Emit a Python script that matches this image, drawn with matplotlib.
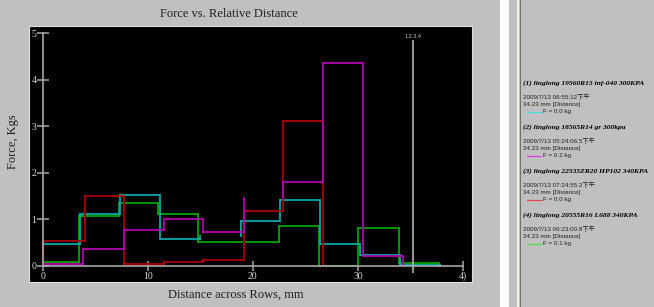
import matplotlib
matplotlib.use("Agg")
import matplotlib.pyplot as plt
from matplotlib.patches import Rectangle
from matplotlib.lines import Line2D

plt.rcParams['font.family'] = ['Liberation Serif', 'Noto Sans CJK TC']

# ---------------- data ----------------
cyan_edges = [0, 3.6, 7.4, 11.2, 15.0, 18.9, 22.6, 26.4, 30.2, 34.0, 37.8]
cyan_vals = [0.46, 1.11, 1.52, 0.58, 0.64, 0.96, 1.41, 0.46, 0.24, 0.01]
cyan_gap = [4]

magenta_edges = [0, 3.86, 7.72, 11.5, 15.3, 19.2, 22.9, 26.7, 30.5, 34.3]
magenta_vals = [0.04, 0.37, 0.77, 1.01, 0.72, 1.46, 1.80, 4.37, 0.21]
magenta_gap = [5]

red_edges = [0, 4.0, 7.7, 11.5, 15.3, 19.2, 22.9, 26.7]
red_vals = [0.54, 1.51, 0.04, 0.07, 0.12, 1.17, 3.11]
red_gap = []

green_edges = [0, 3.45, 7.25, 11.0, 14.8, 18.7, 22.5, 26.3, 30.0, 33.9, 37.7]
green_vals = [0.07, 1.06, 1.34, 1.11, 0.50, 0.50, 0.86, 0.0, 0.82, 0.06]
green_gap = []

cursor_x = 35.2
cursor_label = "1,2,3,4"

x_ticks = [0, 10, 20, 30, 40]
x_ticklabels = ["0", "10", "20", "30", "4)"]
y_ticks = [0, 1, 2, 3, 4, 5]

legend_titles = [
    "(1) linglong 19560R15 inf-040 300KPA",
    "(2) linglong 18565R14 gr 300kpa",
    "(3) linglong 22535ZR20 HP102 340KPA",
    "(4) linglong 20555R16 L688 340KPA",
]
legend_dates = [
    "2009/7/13 06:55:12下午",
    "2009/7/13 05:24:06.5下午",
    "2009/7/13 07:24:55.2下午",
    "2009/7/13 06:23:00.8下午",
]
legend_dist = "34.23 mm [Distance]"
legend_force = ["F = 0.0 kg", "F = 0.2 kg", "F = 0.0 kg", "F = 0.1 kg"]
legend_colors = ["#40e0e0", "#e040e0", "#e04848", "#48e048"]

# ---------------- figure ----------------
W, H = 654, 307
fig = plt.figure(figsize=(W / 100, H / 100), dpi=100, facecolor="#c0c0c0")


def fx(px):
    return px / W


def fy(py):
    return 1 - py / H


# right-side window decorations
fig.patches.append(Rectangle((fx(500), 0), fx(9), 1, transform=fig.transFigure,
                             facecolor="white", edgecolor="none"))
fig.patches.append(Rectangle((fx(517), 0), fx(2), 1, transform=fig.transFigure,
                             facecolor="#f4f0e0", edgecolor="none"))
fig.patches.append(Rectangle((fx(520), 0), fx(1.3), 1, transform=fig.transFigure,
                             facecolor="#707070", edgecolor="none"))

left, right, top, bottom = 29, 472, 26, 282
ax = fig.add_axes([fx(left), fy(bottom), fx(right - left), (bottom - top) / H])
ax.set_facecolor("black")
ax.set_xlim(-1.30, 40.85)
ax.set_ylim(-0.35, 5.155)

ax.patch.set_edgecolor("#e0e0e0")
ax.patch.set_linewidth(0.8)

for s in ["top", "right"]:
    ax.spines[s].set_visible(False)
axis_col = "#a8a8a8"
ax.spines['left'].set_position(('data', 0))
ax.spines['left'].set_bounds(0, 5)
ax.spines['bottom'].set_position(('data', 0))
ax.spines['bottom'].set_bounds(0, 40)
for s in ["left", "bottom"]:
    ax.spines[s].set_color(axis_col)
    ax.spines[s].set_linewidth(1.2)
    ax.spines[s].set_zorder(5)

ax.set_xticks(x_ticks)
ax.set_xticklabels(x_ticklabels)
ax.set_yticks(y_ticks)
ax.tick_params(axis='x', direction='inout', length=6.5, width=1.1, color=axis_col,
               labelcolor="#d8d8d8", labelsize=7, pad=1)
ax.tick_params(axis='y', direction='inout', length=8, width=1.1, color=axis_col,
               labelcolor="#d8d8d8", labelsize=7, pad=0.5)


def draw_steps(edges, vals, color, gap):
    for i, v in enumerate(vals):
        if i in gap:
            continue
        lc = ax.hlines(v, edges[i], edges[i + 1], colors=color, linewidth=1.3)
        lc.set_capstyle('projecting')
    levels = [0] + list(vals) + [0]
    lc = ax.vlines(edges, levels[:-1], levels[1:], colors=color, linewidth=1.3)
    lc.set_capstyle('projecting')


draw_steps(green_edges, green_vals, "#00a000", green_gap)
draw_steps(cyan_edges, cyan_vals, "#00a8a8", cyan_gap)
draw_steps(red_edges, red_vals, "#a80000", red_gap)
draw_steps(magenta_edges, magenta_vals, "#b000b0", magenta_gap)

# cursor
ax.vlines([cursor_x], -0.16, 4.85, colors="#b0b0b0", linewidth=1.2, zorder=6)
ax.text(cursor_x, 4.87, cursor_label, color="#d0d0d0", fontsize=3.5,
        ha="center", va="bottom", family="DejaVu Sans")

# titles
fig.text(fx(229), fy(14), "Force vs. Relative Distance", fontsize=9,
         ha="center", va="center", color="#202020")
fig.text(fx(235.5), fy(295), "Distance across Rows, mm", fontsize=9,
         ha="center", va="center", color="#202020")
fig.text(fx(12.7), fy(141.7), "Force, Kgs", fontsize=9, rotation=90,
         ha="center", va="center", color="#202020")

# legend panel
for i in range(4):
    y0 = 83.3 + 44 * i
    fig.text(fx(523), fy(y0), legend_titles[i], fontsize=5.4, fontweight="bold",
             fontstyle="italic", ha="left", va="center", color="black")
    fig.text(fx(523), fy(y0 + 13.7), legend_dates[i], fontsize=4.5,
             family=["Liberation Sans", "Noto Sans CJK TC"],
             ha="left", va="center", color="#202020")
    fig.text(fx(523), fy(y0 + 21.3), legend_dist, fontsize=4.5,
             family=["Liberation Sans", "Noto Sans CJK TC"],
             ha="left", va="center", color="#202020")
    fig.lines.append(Line2D([fx(527), fx(541)], [fy(y0 + 28.3)] * 2,
                            transform=fig.transFigure, color=legend_colors[i],
                            linewidth=0.9))
    fig.text(fx(543), fy(y0 + 28.3), legend_force[i], fontsize=4.5,
             family=["Liberation Sans", "Noto Sans CJK TC"],
             ha="left", va="center", color="#202020")

fig.savefig("out.png", dpi=100, facecolor=fig.get_facecolor())
